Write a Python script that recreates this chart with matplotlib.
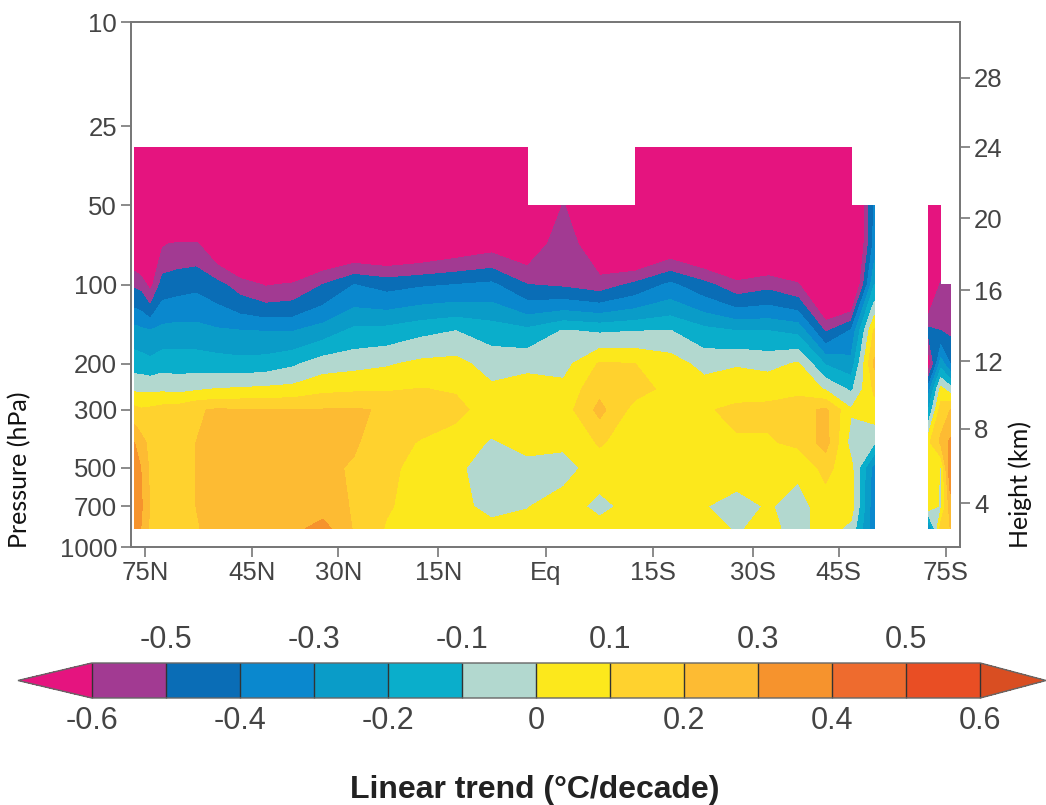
import numpy as np
import matplotlib

matplotlib.use('Agg')
import matplotlib.pyplot as plt
from matplotlib.colors import BoundaryNorm, ListedColormap
from matplotlib.ticker import FixedLocator, NullLocator

nan = np.nan

lats = [82.5, 77.5, 72.5, 67.5, 62.5, 57.5, 52.5, 47.5, 42.5, 37.5, 32.5, 27.5, 22.5, 17.5, 12.5, 7.5, 2.5,
        -2.5, -7.5, -12.5, -17.5, -22.5, -27.5, -32.5, -37.5, -42.5, -47.5, -52.5, -57.5, -62.5, -67.5, -72.5, -77.5]
pressures = [30, 50, 70, 100, 150, 200, 250, 300, 400, 500, 700, 850]

# trend per latitude column at each pressure level
t30 = [-.9, -.9, -.9, -.9, -.9, -.9, -.9, -.9, -.9, -.9, -.9, -.9, -.9, -.9, -.9, -.9, -.9,
       nan, nan, -.9, -.9, -.9, -.9, -.9, -.9, -.9, -.9, nan, nan, nan, nan, nan, nan]
t50 = [-.9, -.9, -.9, -.9, -.9, -.9, -.9, -.9, -.9, -.9, -.9, -.9, -.9, -.9, -.9, -.9, -.85,
       -.59, -.85, -.9, -.9, -.9, -.9, -.9, -.9, -.95, -.9, -.38, nan, nan, -.9, -.85, nan]
t70 = [-.743, -.807, -.9, -.611, -.586, -.583, -.714, -.84, -.9, -.85, -.773, -.756, -.77, -.745, -.693, -.653, -.7,
       -.52, -.72, -.814, -.713, -.783, -.85, -.807, -.85, -.95, -.9, -.36, nan, nan, -.9, -.8, nan]
t100 = [-.517, -.533, -.64, -.456, -.441, -.425, -.468, -.55, -.61, -.588, -.5, -.4, -.438, -.414, -.4, -.38, -.5,
        -.52, -.558, -.477, -.38, -.47, -.57, -.533, -.587, -.85, -.85, -.2, nan, nan, -.8, -.58, -.52]
t150 = [-.263, -.278, -.296, -.27, -.261, -.265, -.286, -.296, -.303, -.303, -.252, -.178, -.167, -.127, -.1, -.143, -.174,
        -.093, -.114, -.103, -.097, -.167, -.2, -.2, -.227, -.515, -.39, .12, nan, nan, -.47, -.5, -.52]
t200 = [-.148, -.154, -.171, -.142, -.147, -.147, -.155, -.167, -.157, -.118, -.05, -.033, -.0125, .023, .033, -.046, -.03,
        -.038, .11, .1, .05, -.038, -.01, -.033, .01, -.21, -.264, .22, nan, nan, -.68, -.25, -.4]
t250 = [-.02, -.02, -.023, -.021, -.033, -.015, .003, .01, .02, .03, .073, .083, .088, .103, .09, .02, .05,
        .03, .17, .14, .07, .05, .06, .07, .07, -.01, -.12, .12, nan, nan, -.35, .03, -.05]
t300 = [.13, .11, .12, .14, .15, .19, .21, .205, .205, .205, .205, .21, .19, .17, .13, .05, .06,
        .05, .23, .06, .06, .09, .12, .12, .16, .22, .01, .06, nan, nan, -.2, .15, .2]
t400 = [.3, .24, .17, .15, .15, .2, .24, .25, .25, .25, .25, .21, .15, .09, .05, -.01, .03,
        .02, .11, .05, .05, .05, .09, .09, .12, .24, -.04, -.09, nan, nan, .08, .22, .32]
t500 = [.34, .3, .18, .15, .15, .2, .25, .25, .25, .25, .22, .19, .12, .07, .02, -.05, -.03,
        -.04, .05, .04, .05, .05, .05, .05, .02, .13, .03, -.35, nan, nan, .1, -.01, .38]
t700 = [.35, .32, .19, .15, .15, .2, .25, .25, .25, .26, .25, .19, .11, .06, .03, -.03, -.005,
        .05, -.03, .04, .05, .005, -.04, .01, -.04, .05, .05, -.38, nan, nan, .07, -.02, .25]
t850 = [.33, .3, .18, .15, .15, .19, .24, .25, .25, .27, .34, .19, .09, .06, .04, .03, .04,
        .07, .04, .05, .05, .04, -.01, .03, -.04, .05, -.03, -.38, nan, nan, -.35, .15, .2]

levels = [-0.6, -0.5, -0.4, -0.3, -0.2, -0.1, 0, 0.1, 0.2, 0.3, 0.4, 0.5, 0.6]
band_colors = ['#A23A92', '#0A6DB6', '#0A88CE', '#0A9CC8', '#0AAECB', '#B2D8CF',
               '#FCE81C', '#FFD22E', '#FDBB33', '#F6932D', '#EE6B2E', '#E94E24']
under_color = '#E5147F'
over_color = '#D94E22'

pressure_ticks = [10, 25, 50, 100, 200, 300, 500, 700, 1000]
height_labels = ['4', '8', '12', '16', '20', '24', '28']
height_pressures = [680, 355, 196, 105, 56, 30, 16.3]
lat_ticks = [75, 45, 30, 15, 0, -15, -30, -45, -75]
lat_labels = ['75N', '45N', '30N', '15N', 'Eq', '15S', '30S', '45S', '75S']
cbar_below = [-0.6, -0.4, -0.2, 0, 0.2, 0.4, 0.6]
cbar_below_labels = ['-0.6', '-0.4', '-0.2', '0', '0.2', '0.4', '0.6']
cbar_above = [-0.5, -0.3, -0.1, 0.1, 0.3, 0.5]
cbar_above_labels = ['-0.5', '-0.3', '-0.1', '0.1', '0.3', '0.5']

W, H = 1046, 805
SPINE = '#777777'
TEXT = '#444444'

plt.rcParams['font.family'] = ['Liberation Sans', 'DejaVu Sans']

fig = plt.figure(figsize=(W / 100, H / 100), dpi=100)
ax = fig.add_axes([131 / W, 1 - 547 / H, 829 / W, 525 / H])

grid = np.ma.masked_invalid(np.array([t30, t50, t70, t100, t150, t200, t250, t300, t400, t500, t700, t850]))
sin_lat = np.sin(np.radians(lats))

cmap = ListedColormap(band_colors)
cmap.set_under(under_color)
cmap.set_over(over_color)
norm = BoundaryNorm(levels, cmap.N)
cf = ax.contourf(sin_lat, pressures, grid, levels=levels, cmap=cmap, norm=norm, extend='both', corner_mask=False)

ax.set_yscale('log')
ax.set_ylim(1000, 10)
ax.set_xlim(1, -1)
ax.yaxis.set_major_locator(FixedLocator(pressure_ticks))
ax.yaxis.set_minor_locator(NullLocator())
ax.set_yticklabels([str(p) for p in pressure_ticks])
ax.set_xticks(np.sin(np.radians(lat_ticks)))
ax.set_xticklabels(lat_labels)
ax.tick_params(length=7, width=1.2, color=SPINE, labelsize=18.5, labelcolor=TEXT, pad=3)

ax2 = ax.twinx()
ax2.set_yscale('log')
ax2.set_ylim(1000, 10)
ax2.yaxis.set_major_locator(FixedLocator(height_pressures))
ax2.yaxis.set_minor_locator(NullLocator())
ax2.set_yticklabels(height_labels)
ax2.tick_params(length=7, width=1.2, color=SPINE, labelsize=18.5, labelcolor=TEXT, pad=3)

for a in [ax, ax2]:
    for s in a.spines.values():
        s.set_color(SPINE)
        s.set_linewidth(1.3)

fig.text(20 / W, 1 - 470 / H, 'Pressure (hPa)', rotation=90, ha='center', va='center',
         family='Lato', fontsize=18, color='#111111')
fig.text(1020 / W, 1 - 484 / H, 'Height (km)', rotation=90, ha='center', va='center',
         family='Lato', fontsize=18, color='#111111')

cax = fig.add_axes([18 / W, 1 - 698 / H, 1028 / W, 35 / H])
cbar = fig.colorbar(cf, cax=cax, orientation='horizontal', drawedges=True, extendfrac=[0.083, 0.074],
                    spacing='proportional')
cbar.outline.set_edgecolor('#666666')
cbar.outline.set_linewidth(1)
cbar.dividers.set_color('#333333')
cbar.dividers.set_linewidth(1)
cbar.set_ticks(cbar_below, labels=cbar_below_labels)
cax.tick_params(length=0, labelsize=22, labelcolor=TEXT, pad=6)
cax.minorticks_off()

top = cax.secondary_xaxis('top')
top.set_xticks(cbar_above, labels=cbar_above_labels)
top.tick_params(length=0, labelsize=22, labelcolor=TEXT, pad=6)
top.spines['top'].set_visible(False)

fig.text(535 / W, 1 - 790 / H, 'Linear trend (\u00b0C/decade)', ha='center', va='center',
         fontsize=23, fontweight='bold', color='#222222')

fig.savefig('out.png', dpi=100)
